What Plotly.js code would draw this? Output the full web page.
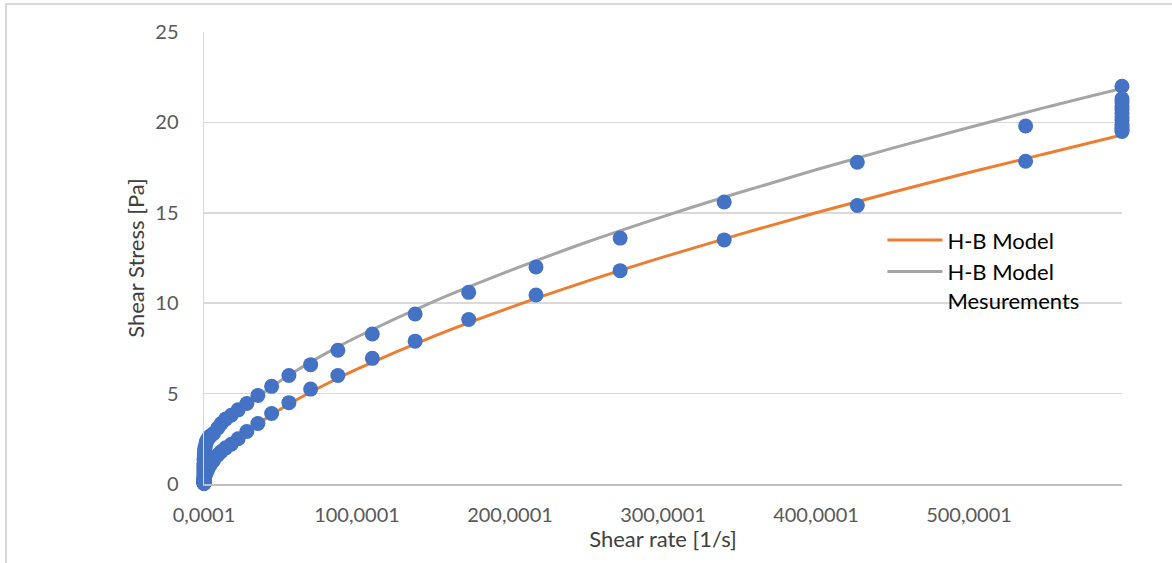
<!DOCTYPE html>
<html>
<head>
<meta charset="utf-8">
<script src="https://cdn.plot.ly/plotly-3.0.1.min.js"></script>
<style>
  html, body { margin: 0; padding: 0; background: #ffffff; overflow: hidden; }
  #chart { width: 1172px; height: 563px; }
  #frame { position: absolute; left: 5px; top: 3px; width: 1300px; height: 700px;
           border-left: 2px solid #d9d9d9; border-top: 2px solid #d9d9d9; pointer-events: none; }
</style>
</head>
<body>
<div id="chart"></div>
<div id="frame"></div>
<script>
// Shear rates of the measurement sweep [1/s]
const shearRate = [
  0.0001, 0.00016, 0.00025, 0.0004, 0.00063, 0.001, 0.0016, 0.0025, 0.004, 0.0063,
  0.01, 0.016, 0.025, 0.04, 0.063, 0.1, 0.16, 0.25, 0.4, 0.63,
  1.0, 1.6, 2.5, 4.0, 6.3, 9.0, 11.3, 14.2, 17.8, 22.3,
  28.0, 35.2, 44.2, 55.5, 69.7, 87.5, 110, 138, 173, 217,
  272, 340, 427, 537, 600
];
// Measured shear stress on the ramp up [Pa]
const stressUp = [
  0.10, 0.15, 0.20, 0.25, 0.30, 0.38, 0.45, 0.55, 0.65, 0.75,
  0.85, 0.95, 1.05, 1.15, 1.30, 1.40, 1.55, 1.70, 1.85, 2.00,
  2.15, 2.35, 2.50, 2.65, 2.80, 3.10, 3.35, 3.60, 3.80, 4.10,
  4.45, 4.90, 5.40, 6.00, 6.60, 7.40, 8.30, 9.40, 10.60, 12.00,
  13.60, 15.60, 17.80, 19.80, 22.00
];
// Measured shear stress while holding the maximum rate [Pa]
const holdRate = 600;
const stressHold = [21.3, 21.1, 20.9, 20.7, 20.5, 20.3, 20.1, 19.9, 19.75, 19.6];
// Measured shear stress on the ramp down [Pa] (same rates)
const stressDown = [
  0.03, 0.04, 0.05, 0.06, 0.07, 0.08, 0.09, 0.10, 0.12, 0.14,
  0.16, 0.18, 0.20, 0.23, 0.26, 0.29, 0.33, 0.37, 0.42, 0.47,
  0.53, 0.65, 0.80, 1.05, 1.30, 1.60, 1.80, 2.00, 2.20, 2.50,
  2.90, 3.35, 3.90, 4.50, 5.25, 6.00, 6.95, 7.90, 9.10, 10.45,
  11.80, 13.50, 15.40, 17.85, 19.50
];

// Herschel-Bulkley model curves
const modelRate = [0.0001, 1, 2, 5, 10, 20, 40, 60, 80, 100, 150, 200, 250, 300, 350, 400, 450, 500, 550, 600];
const modelDown = [0.0, 0.37, 0.56, 0.99, 1.52, 2.34, 3.60, 4.63, 5.53, 6.35, 8.17, 9.76, 11.21, 12.55, 13.81, 15.00, 16.14, 17.23, 18.27, 19.30];
const modelUp   = [1.0, 1.45, 1.68, 2.18, 2.79, 3.71, 5.12, 6.25, 7.24, 8.13, 10.09, 11.80, 13.37, 14.79, 16.12, 17.38, 18.58, 19.72, 20.83, 21.88];

// axis ticks
const xTickVals = [0.0001, 100.0001, 200.0001, 300.0001, 400.0001, 500.0001];
const yTickVals = [0, 5, 10, 15, 20, 25];

const seriesNames = ['H-B Model', 'H-B Model<br>Mesurements', 'Mesurements'];
const xTitle = 'Shear rate [1/s]';
const yTitle = 'Shear Stress [Pa]';

// measurement sequence: ramp up, hold, ramp down
const measX = shearRate.concat(stressHold.map(() => holdRate), shearRate.slice().reverse());
const measY = stressUp.concat(stressHold, stressDown.slice().reverse());

const FONT = 'Lato, "Open Sans", sans-serif';

const traces = [
  { type: 'scatter', mode: 'lines', name: seriesNames[0], x: modelRate, y: modelDown,
    line: { color: '#ED7D31', width: 3, shape: 'spline' } },
  { type: 'scatter', mode: 'lines', name: seriesNames[1], x: modelRate, y: modelUp,
    line: { color: '#A5A5A5', width: 3, shape: 'spline' } },
  { type: 'scatter', mode: 'markers', name: seriesNames[2], x: measX, y: measY, showlegend: false,
    cliponaxis: false,
    marker: { color: '#4472C4', size: 15, line: { width: 0 } } }
];

const layout = {
  width: 1172, height: 563,
  margin: { l: 204, r: 50, t: 32, b: 79, pad: 0 },
  paper_bgcolor: '#ffffff', plot_bgcolor: '#ffffff',
  separators: ',.',
  font: { family: FONT, size: 20, color: '#595959' },
  showlegend: true,
  legend: {
    x: 0.739, y: 0.586, xanchor: 'left', yanchor: 'top',
    font: { family: FONT, size: 22, color: '#000000' },
    bgcolor: 'rgba(0,0,0,0)', borderwidth: 0, valign: 'top',
    tracegroupgap: 0, itemwidth: 55
  },
  xaxis: {
    range: [0.0001, 600], tickmode: 'array', tickvals: xTickVals, tickformat: '.4f',
    showgrid: false, zeroline: false,
    showline: true, linecolor: '#bfbfbf', linewidth: 1.5,
    ticks: '', ticklabelstandoff: 12,
    tickfont: { family: FONT, size: 20, color: '#595959' },
    title: { text: xTitle, font: { family: FONT, size: 22, color: '#404040' }, standoff: 4 }
  },
  yaxis: {
    range: [0, 25], tickmode: 'array', tickvals: yTickVals,
    showgrid: true, gridcolor: '#d9d9d9', gridwidth: 1.5, zeroline: false,
    showline: true, linecolor: '#d9d9d9', linewidth: 1.5,
    ticks: '', ticklabelstandoff: 20,
    tickfont: { family: FONT, size: 20, color: '#595959' },
    title: { text: yTitle, font: { family: FONT, size: 22, color: '#404040' }, standoff: 4 }
  }
};

Plotly.newPlot('chart', traces, layout, { displayModeBar: false, staticPlot: true });
</script>
</body>
</html>
